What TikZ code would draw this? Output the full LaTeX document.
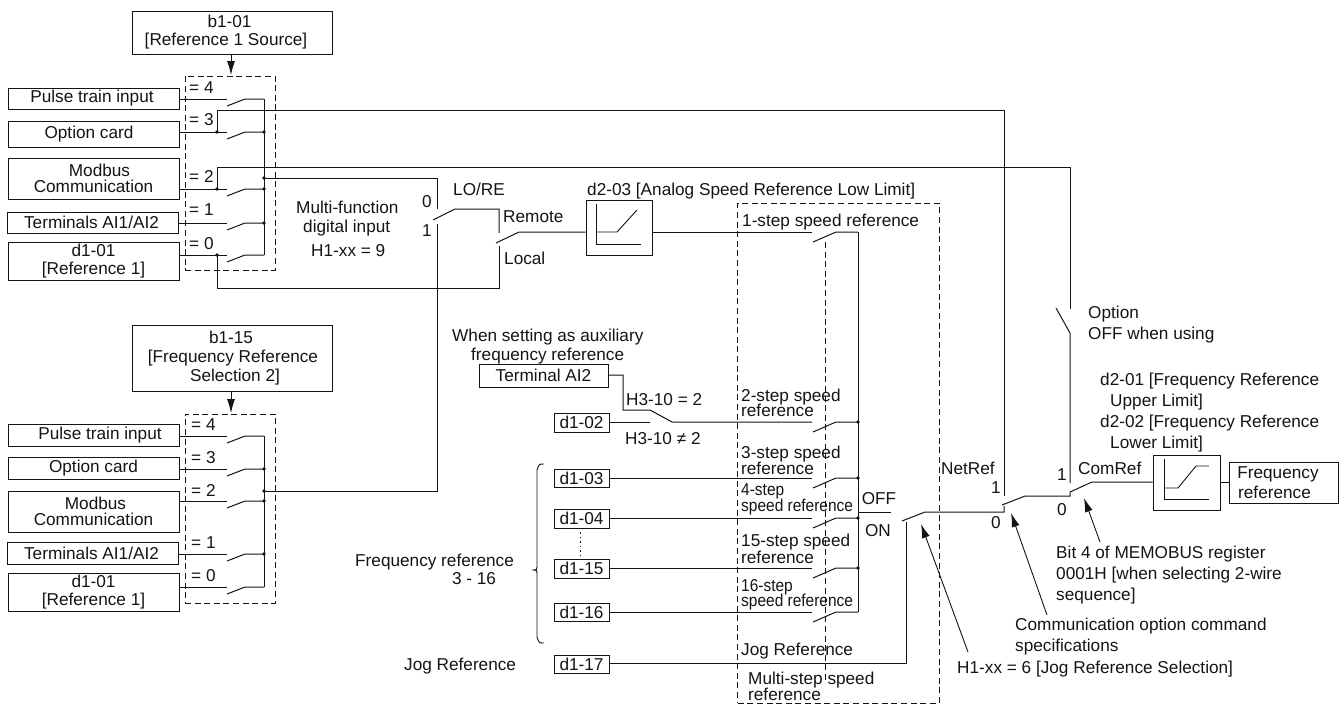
\documentclass[tikz,border=0pt]{standalone}
\usepackage{fontspec}
\setmainfont{Liberation Sans}
\usetikzlibrary{arrows.meta}
\definecolor{ink}{rgb}{0.08,0.08,0.08}
\tikzset{
  wire/.style={draw=ink,line width=1pt,line join=miter},
  dashbox/.style={draw=ink,line width=0.9pt,dash pattern=on 6pt off 3.6pt},
  thinline/.style={draw=ink,line width=0.9pt},
  pointer/.style={draw=ink,line width=0.9pt,-{Latex[length=14pt,width=8pt]}},
  box/.style={draw=ink,line width=0.95pt,inner sep=0pt,align=center,text=ink,font=\fontsize{17.2}{18}\selectfont},
  lab/.style={inner sep=0pt,text=ink,font=\fontsize{17.2}{20}\selectfont},
  dotted wire/.style={draw=ink,line width=0.8pt,dash pattern=on 1.5pt off 3pt}
}
\newcounter{tc}
% left-aligned label: x, centre y, text
\newcommand{\tx}[3]{\stepcounter{tc}\node[lab,anchor=base west,name=t\arabic{tc}] at (#1,#2+6) {#3};}
% centred label
\newcommand{\txc}[3]{\stepcounter{tc}\node[lab,anchor=base,name=t\arabic{tc}] at (#1,#2+6) {#3};}
% condensed label
\newcommand{\txn}[3]{\stepcounter{tc}\node[lab,anchor=base west,name=t\arabic{tc}] at (#1,#2+6) {\scalebox{0.9}[1]{#3}};}
% box: name x1 y1 x2 y2 text
\newcommand{\bx}[6]{\node[box,name=#1,minimum width=#4-#2,minimum height=#5-#3] at ({(#2+#4)/2},{(#3+#5)/2}) {#6};}
% source selector switch: name, y
\newcommand{\srcsw}[2]{%
  \coordinate (#1i) at (227,#2);
  \coordinate (#1a) at (227,#2+7);
  \coordinate (#1b) at (245,#2);
  \coordinate (#1c) at (264,#2);
  \draw[wire] (#1box.east |- #1i) -- (#1i);
  \draw[wire] (#1a) -- (#1b) -- (#1c);}
% step switch: name, y
\newcommand{\stepsw}[2]{%
  \coordinate (#1i) at (812,#2);
  \coordinate (#1a) at (813,#2+10);
  \coordinate (#1b) at (836,#2);
  \coordinate (#1c) at (858,#2);
  \draw[wire] (#1a) -- (#1b) -- (#1c);}
\newcommand{\jdot}[1]{\fill[ink] (#1) circle (1.9);}
\begin{document}
\begin{tikzpicture}[x=1pt,y=-1pt]
\useasboundingbox (0,0) rectangle (1339,704);

% ---------- upper source block
\bx{bA}{132}{11}{332}{54}{\hspace*{-5pt}b1-01\\[0pt]\hspace*{-12pt}[Reference 1 Source]}
\bx{uabox}{8}{88}{179}{109}{\hspace*{-3pt}Pulse train input}
\bx{ubbox}{8}{121}{179}{147}{\hspace*{-9pt}Option card}
\bx{ucbox}{8}{158}{179}{199}{\hspace*{12pt}Modbus\\[-2pt]Communication}
\bx{udbox}{7}{212}{178}{233}{\hspace*{-2pt}Terminals AI1/AI2}
\bx{uebox}{8}{242}{179}{280}{d1-01\\{}[Reference 1]}
\node[dashbox,name=dU,inner sep=0pt,minimum width=90pt,minimum height=194pt] at (230,173) {};
\coordinate (bAa) at (231,54); \coordinate (dUa) at (231,75);
\draw[pointer] (bAa) -- (dUa);
\tx{189}{87}{= 4}\tx{189}{119}{= 3}\tx{189}{176}{= 2}\tx{189}{209}{= 1}\tx{189}{243}{= 0}
\srcsw{ua}{99}\srcsw{ub}{132}\srcsw{uc}{189}\srcsw{ud}{223}\srcsw{ue}{255}
\draw[wire] (uac) -- (uec);
\coordinate (uo) at (264,178);
\foreach \n in {ubc,ucc,udc,uo} {\jdot{\n}}
\coordinate (tb) at (217,132); \coordinate (tc) at (217,189); \coordinate (te) at (217,255);
\foreach \n in {tb,tc,te} {\jdot{\n}}

% ---------- lower source block
\bx{bB}{132}{325}{332}{391}{\hspace*{-2pt}b1-15\\[1pt]\hspace*{2pt}[Frequency Reference\\[1pt]\hspace*{6pt}Selection 2]}
\bx{labox}{8}{424}{179}{446}{\hspace*{13pt}Pulse train input}
\bx{lbbox}{8}{457}{179}{479}{Option card}
\bx{lcbox}{8}{491}{179}{532}{\hspace*{4pt}Modbus\\[-2pt]Communication}
\bx{ldbox}{7}{542}{178}{564}{\hspace*{-2pt}Terminals AI1/AI2}
\bx{lebox}{8}{573}{179}{611}{d1-01\\{}[Reference 1]}
\node[dashbox,name=dL,inner sep=0pt,minimum width=90pt,minimum height=189pt] at (230,508.5) {};
\coordinate (bBa) at (231,391); \coordinate (dLa) at (231,413);
\draw[pointer] (bBa) -- (dLa);
\tx{191}{424}{= 4}\tx{191}{457}{= 3}\tx{191}{490}{= 2}\tx{191}{542}{= 1}\tx{191}{575}{= 0}
\srcsw{la}{436}\srcsw{lb}{469}\srcsw{lc}{501}\srcsw{ld}{554}\srcsw{le}{587}
\draw[wire] (lac) -- (lec);
\coordinate (lo) at (264,491);
\foreach \n in {lbc,lcc,ldc,lo} {\jdot{\n}}

% ---------- LO/RE switches
\tx{296}{207}{Multi-function}
\tx{303}{226}{digital input}
\tx{311}{250}{H1-xx = 9}
\txc{427}{201}{0}\txc{427}{230}{1}
\tx{453}{189}{LO/RE}
\tx{503}{216}{Remote}
\tx{504}{258}{Local}
\coordinate (mU) at (437,178); \coordinate (mUe) at (437,209);
\coordinate (mL) at (437,491); \coordinate (mLe) at (437,224);
\draw[wire] (uo) -- (mU) -- (mUe);
\draw[wire] (lo) -- (mL) -- (mLe);
\coordinate (m1) at (433,220); \coordinate (m2) at (455,209); \coordinate (m3) at (499,209); \coordinate (m4) at (499,233);
\draw[wire] (m1) -- (m2) -- (m3) -- (m4);
\coordinate (lcA) at (217,288); \coordinate (lcB) at (499,288); \coordinate (lcC) at (499,246);
\draw[wire] (te) -- (lcA) -- (lcB) -- (lcC);
\coordinate (r1) at (496,243); \coordinate (r2) at (519,232);
\bx{lim}{586}{200}{652}{255}{}
\draw[wire] (r1) -- (r2) -- (lim.west |- r2);
\coordinate (limA) at (596,204); \coordinate (limB) at (596,244); \coordinate (limC) at (641,244);
\draw[thinline] (limA) -- (limB) -- (limC);
\coordinate (limD) at (596,232); \coordinate (limE) at (617,232); \coordinate (limF) at (637,210);
\draw[thinline] (limD) -- (limE) -- (limF);
\tx{587}{189}{d2-03 [Analog Speed Reference Low Limit]}

% ---------- long feeders
\coordinate (net) at (1004,110); \coordinate (netE) at (1004,496);
\draw[wire] (tb) -- (217,110) -- (net) -- (netE);
\coordinate (opt) at (1070,167); \coordinate (optE) at (1070,309);
\draw[wire] (tc) -- (217,167) -- (opt) -- (optE);
\coordinate (optA) at (1056,308); \coordinate (optB) at (1070,333); \coordinate (optC) at (1070,483);
\draw[wire] (optA) -- (optB) -- (optC);

% ---------- multi-step block
\node[dashbox,name=dS,inner sep=0pt,minimum width=201.5pt,minimum height=500pt] at (838.5,453) {};
\coordinate (dIa) at (825,242); \coordinate (dIb) at (825,680);
\draw[dashbox] (dIa) -- (dIb);
\tx{742}{220}{1-step speed reference}
\tx{741}{395}{2-step speed}\tx{741}{410}{reference}
\tx{741}{452}{3-step speed}\tx{741}{468}{reference}
\txn{741}{489}{4-step}\txn{741}{505}{speed reference}
\tx{741}{540.5}{15-step speed}\tx{741}{557}{reference}
\txn{741}{585}{16-step}\txn{741}{600}{speed reference}
\tx{741}{649}{Jog Reference}
\tx{748}{678}{Multi-step speed}\tx{748}{694}{reference}

\stepsw{s1}{232}\stepsw{s2}{422}\stepsw{s3}{478}\stepsw{s4}{518}\stepsw{s5}{568}\stepsw{s6}{612}
\draw[wire] (lim.east |- s1i) -- (s1i);
\draw[wire] (s1c) -- (s6c);
\foreach \n in {s2c,s3c,s4c,s5c} {\jdot{\n}}

\tx{452}{335}{When setting as auxiliary}
\tx{471}{354}{frequency reference}
\bx{tAI}{479}{364}{608}{387}{Terminal AI2}
\bx{d102}{554}{413}{609}{432}{d1-02}
\coordinate (aA) at (623,375); \coordinate (aB) at (623,410); \coordinate (aC) at (650,410); \coordinate (aD) at (672,422);
\draw[wire] (tAI.east |- aA) -- (aA) -- (aB) -- (aC) -- (aD) -- (s2i);
\coordinate (aE) at (650,422);
\draw[wire] (d102.east |- aE) -- (aE);
\tx{626}{399}{H3-10 = 2}
\tx{625}{438}{H3-10 ≠ 2}

\bx{d103}{554}{469}{609}{487}{d1-03}
\bx{d104}{554}{509}{609}{528}{d1-04}
\bx{d115}{554}{559}{609}{578}{d1-15}
\bx{d116}{554}{603}{609}{621}{d1-16}
\bx{d117}{554}{655}{609}{673}{d1-17}
\draw[wire] (d103.east |- s3i) -- (s3i);
\draw[wire] (d104.east |- s4i) -- (s4i);
\draw[wire] (d115.east |- s5i) -- (s5i);
\draw[wire] (d116.east |- s6i) -- (s6i);
\coordinate (dotsA) at (580.7,532); \coordinate (dotsB) at (580.7,558);
\draw[dotted wire] (dotsA) -- (dotsB);
% brace
\coordinate (brA) at (544,464); \coordinate (brB) at (537,470); \coordinate (brC) at (537,565);
\coordinate (brT) at (532,570); \coordinate (brD) at (537,575); \coordinate (brE) at (537,637); \coordinate (brF) at (544,643);
\draw[thinline] (brA) .. controls (539,464) .. (brB) -- (brC) .. controls (537,570) .. (brT) .. controls (537,570) .. (brD) -- (brE) .. controls (539,643) .. (brF);
\tx{355}{560}{Frequency reference}
\txc{474}{578}{3 - 16}
\tx{404}{664}{Jog Reference}

% OFF / ON
\coordinate (fA) at (858,512); \coordinate (fB) at (891,512);
\draw[wire] (fA) -- (fB);
\txc{879}{498}{OFF}\txc{878}{530}{ON}
\coordinate (jA) at (906,663); \coordinate (jB) at (906,522);
\draw[wire] (d117.east |- jA) -- (jA) -- (jB);
\coordinate (nA) at (902,521); \coordinate (nB) at (925,512); \coordinate (nC) at (1004,512); \coordinate (nD) at (1004,506);
\draw[wire] (nA) -- (nB) -- (nC) -- (nD);
\coordinate (oA) at (1002,505); \coordinate (oB) at (1025,496); \coordinate (oC) at (1070,496); \coordinate (oD) at (1070,492);
\draw[wire] (oA) -- (oB) -- (oC) -- (oD);
\coordinate (pA) at (1070,492); \coordinate (pB) at (1092,482);
\bx{lim2}{1153}{455}{1220}{510}{}
\draw[wire] (pA) -- (pB) -- (lim2.west |- pB);
\coordinate (qA) at (1164,459); \coordinate (qB) at (1164,499); \coordinate (qC) at (1209,499);
\draw[thinline] (qA) -- (qB) -- (qC);
\coordinate (qD) at (1164,488); \coordinate (qE) at (1178,488); \coordinate (qF) at (1196,466); \coordinate (qG) at (1209,466);
\draw[thinline] (qD) -- (qE) -- (qF) -- (qG);
\bx{freq}{1229}{462}{1338}{503}{\hspace*{-11pt}Frequency\\[2pt]\hspace*{-18pt}reference}
\draw[wire] (lim2.east |- pB) -- (freq.west |- pB);

% labels on the right
\tx{941}{468}{NetRef}
\txc{996}{487}{1}\txc{996}{522}{0}
\tx{1078}{468}{ComRef}
\txc{1062}{474}{1}\txc{1062}{509}{0}
\tx{1088}{312}{Option}
\tx{1088}{333}{OFF when using}
\tx{1100}{379}{d2-01 [Frequency Reference}
\tx{1110}{400}{Upper Limit]}
\tx{1100}{421}{d2-02 [Frequency Reference}
\tx{1110}{442}{Lower Limit]}
\tx{1056}{552}{Bit 4 of MEMOBUS register}
\tx{1056}{573}{0001H [when selecting 2-wire}
\tx{1056}{594}{sequence]}
\tx{1015}{624}{Communication option command}
\tx{1015}{645}{specifications}
\tx{957}{667}{H1-xx = 6 [Jog Reference Selection]}
\coordinate (a1s) at (968,652); \coordinate (a1e) at (921,524);
\coordinate (a2s) at (1047,615); \coordinate (a2e) at (1011,513);
\coordinate (a3s) at (1100,542); \coordinate (a3e) at (1084,498);
\draw[pointer] (a1s) -- (a1e);
\draw[pointer] (a2s) -- (a2e);
\draw[pointer] (a3s) -- (a3e);
\end{tikzpicture}
\end{document}
